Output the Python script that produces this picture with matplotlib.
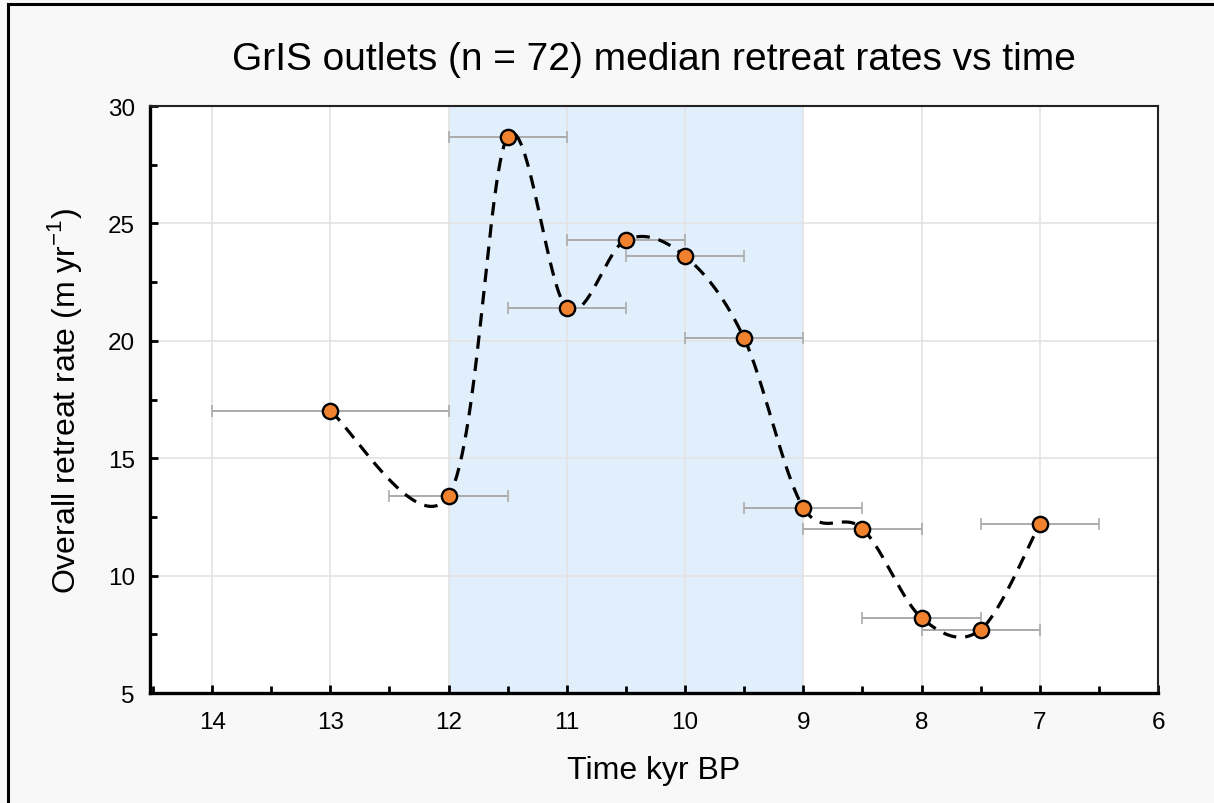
import numpy as np
import matplotlib
matplotlib.use("Agg")
import matplotlib.pyplot as plt
from matplotlib.ticker import MultipleLocator
from matplotlib.lines import Line2D

plt.rcParams['font.family'] = ['Liberation Sans', 'DejaVu Sans']

# Data
time_kyr = [13, 12, 11.5, 11, 10.5, 10, 9.5, 9, 8.5, 8, 7.5, 7]
retreat_rate = [17.0, 13.4, 28.7, 21.4, 24.3, 23.6, 20.1, 12.9, 12.0, 8.2, 7.7, 12.2]
time_err = [1.0, 0.5, 0.5, 0.5, 0.5, 0.5, 0.5, 0.5, 0.5, 0.5, 0.5, 0.5]
span_start, span_end = 12, 9


def smooth_curve(xs, ys, n=60):
    """Catmull-Rom style smoothing (like a spreadsheet 'smoothed line')."""
    pts = np.column_stack([xs, ys]).astype(float)
    padded = np.vstack([pts[0], pts, pts[-1]])
    out = []
    for i in range(1, len(padded) - 2):
        p0, p1, p2, p3 = padded[i - 1], padded[i], padded[i + 1], padded[i + 2]
        c1 = p1 + (p2 - p0) / 6.0
        c2 = p2 - (p3 - p1) / 6.0
        t = np.linspace(0, 1, n)[:, None]
        seg = ((1 - t) ** 3) * p1 + 3 * ((1 - t) ** 2) * t * c1 \
            + 3 * (1 - t) * t ** 2 * c2 + t ** 3 * p2
        out.append(seg if i == 1 else seg[1:])
    curve = np.vstack(out)
    return curve[:, 0], curve[:, 1]


fig = plt.figure(figsize=(12.14, 8.04), dpi=100, facecolor='#f8f8f8')
ax = fig.add_axes([0.1236, 0.1368, 0.8303, 0.7301])
ax.set_facecolor('white')

ax.axvspan(span_end, span_start, color='#e1eefc', zorder=0, lw=0)

sx, sy = smooth_curve(time_kyr, retreat_rate)
ax.plot(sx, sy, color='black', lw=2.3, dashes=(4.2, 2.8), zorder=3)

ax.errorbar(time_kyr, retreat_rate, xerr=time_err, fmt='none',
            ecolor='#ababab', elinewidth=1.4, capsize=4.5, capthick=1.2, zorder=2)
ax.plot(time_kyr, retreat_rate, 'o', ms=11, mfc='#f0822e', mec='black',
        mew=1.7, zorder=4, ls='none')

ax.set_xlim(14.525, 6)
ax.set_ylim(5, 30)
ax.xaxis.set_major_locator(MultipleLocator(1))
ax.xaxis.set_minor_locator(MultipleLocator(0.5))
ax.yaxis.set_major_locator(MultipleLocator(5))
ax.yaxis.set_minor_locator(MultipleLocator(2.5))

ax.grid(True, which='major', color='#e3e3e3', lw=1.2, zorder=1)
ax.set_axisbelow(True)

ax.tick_params(which='both', direction='in', width=2, labelsize=17.5,
               top=False, right=False)
ax.tick_params(which='major', length=6)
ax.tick_params(which='minor', length=5)
ax.tick_params(axis='x', pad=13)
ax.tick_params(axis='y', pad=11)

for side in ['left', 'bottom']:
    ax.spines[side].set_linewidth(2.4)
for side in ['top', 'right']:
    ax.spines[side].set_linewidth(1.5)
    ax.spines[side].set_color('#222222')

ax.set_title('GrIS outlets (n = 72) median retreat rates vs time',
             fontsize=28, pad=27)
ax.set_xlabel('Time kyr BP', fontsize=23, labelpad=16)
ax.set_ylabel(r'Overall retreat rate (m yr$^{\mathregular{-1}}$)', fontsize=23,
              labelpad=17)

# outer frame (left and top edges visible)
fig.add_artist(Line2D([7.5 / 1214, 7.5 / 1214], [0, 1 - 5 / 804],
                      transform=fig.transFigure, color='black', lw=2.2))
fig.add_artist(Line2D([7.5 / 1214, 1], [1 - 5 / 804, 1 - 5 / 804],
                      transform=fig.transFigure, color='black', lw=2.2))

fig.savefig('out.png', dpi=100, facecolor=fig.get_facecolor())
